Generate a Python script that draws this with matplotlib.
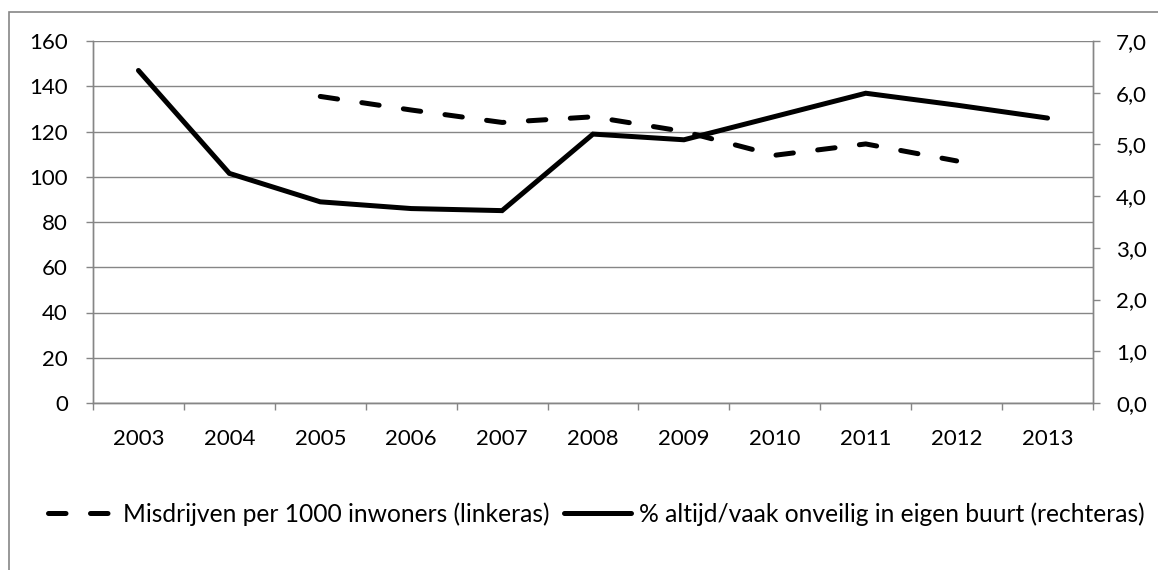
import matplotlib.pyplot as plt
from matplotlib.ticker import FuncFormatter, FixedLocator
from matplotlib.patches import Rectangle

plt.rcParams['font.family'] = ['Lato', 'DejaVu Sans']

# data
jaren = ['2003', '2004', '2005', '2006', '2007', '2008', '2009', '2010', '2011', '2012', '2013']
misdrijven = [None, None, 135.5, 129.5, 124.0, 126.5, 120.0, 109.5, 114.5, 107.0, None]
onveilig = [6.43, 4.44, 3.89, 3.76, 3.72, 5.20, 5.09, 5.54, 5.99, 5.76, 5.51]
links_ticks = [0, 20, 40, 60, 80, 100, 120, 140, 160]
rechts_ticks = [0, 1, 2, 3, 4, 5, 6, 7]

label_mis = 'Misdrijven per 1000 inwoners (linkeras)'
label_onv = '% altijd/vaak onveilig in eigen buurt (rechteras)'

grijs = '#868686'
fs = 16

fig = plt.figure(figsize=(11.58, 5.70), dpi=100)
ax = fig.add_axes([93 / 1158, 1 - 403 / 570, 1000 / 1158, 362 / 570])
ax2 = ax.twinx()

x = list(range(len(jaren)))
xm = [i for i, v in zip(x, misdrijven) if v is not None]
ym = [v for v in misdrijven if v is not None]

l1, = ax.plot(xm, ym, color='black', lw=3.6, dashes=(3.5, 4.9),
              dash_capstyle='round', solid_capstyle='round', label=label_mis)
l2, = ax2.plot(x, onveilig, color='black', lw=3.6, solid_capstyle='round',
               solid_joinstyle='miter', label=label_onv)

ax.set_xlim(-0.5, len(jaren) - 0.5)
ax.set_ylim(0, 160)
ax2.set_ylim(0, 7)
ax.set_yticks(links_ticks)
ax2.set_yticks(rechts_ticks)
ax2.yaxis.set_major_formatter(FuncFormatter(lambda v, p: f'{v:.1f}'.replace('.', ',')))

ax.set_xticks(x)
ax.set_xticklabels(jaren)
ax.xaxis.set_minor_locator(FixedLocator([i - 0.5 for i in range(len(jaren) + 1)]))
ax.tick_params(axis='x', which='major', length=0, pad=19, labelsize=fs)
ax.tick_params(axis='x', which='minor', length=5, color=grijs, width=1)
ax.tick_params(axis='y', length=5, color=grijs, width=1, labelsize=fs, pad=13)
ax2.tick_params(axis='y', length=5, color=grijs, width=1, labelsize=fs, pad=11.5)

ax.grid(axis='y', color=grijs, lw=1)
ax.set_axisbelow(True)
for a in (ax, ax2):
    a.spines['top'].set_visible(False)
    for s in ('left', 'right', 'bottom'):
        a.spines[s].set_color(grijs)
        a.spines[s].set_linewidth(1)

fig.legend(handles=[l1, l2], loc='center', bbox_to_anchor=(596 / 1158, 1 - 514 / 570),
           ncol=2, frameon=False, fontsize=17.7, handlelength=2.75,
           handletextpad=0.3, columnspacing=0.6, borderpad=0, borderaxespad=0)

fig.patches.append(Rectangle((9 / 1158, -0.1), 1.2, 1 - 12 / 570 + 0.1,
                             transform=fig.transFigure, fill=False,
                             edgecolor=grijs, lw=1.2))

fig.savefig('out.png', dpi=100)
